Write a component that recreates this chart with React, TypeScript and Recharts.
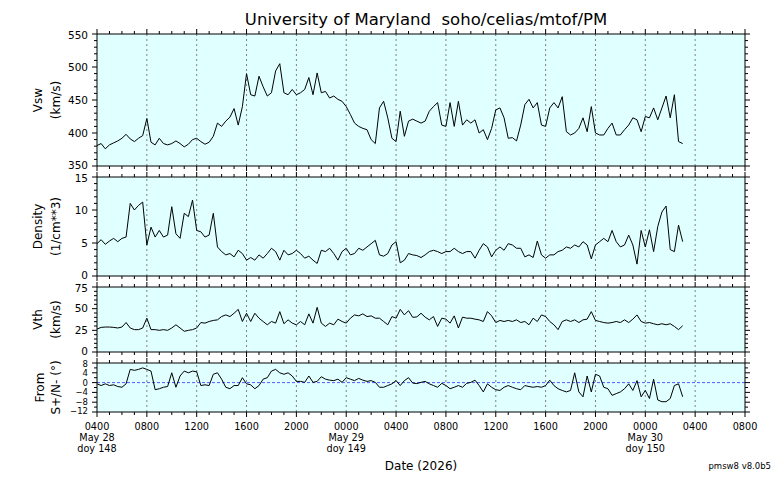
import React from 'react';
import { LineChart, Line, XAxis, YAxis, CartesianGrid, ReferenceLine } from 'recharts';

// one sample every 20 minutes, starting 0400 May 28 (hours since start)
const STEP_HOURS = 1 / 3;

const VSW = [
  381, 384, 376, 382, 385, 388, 392, 398, 391, 387, 392, 396,
  422, 386, 382, 392, 384, 382, 384, 388, 384, 379, 383, 390,
  392, 387, 383, 386, 395, 415, 410, 418, 424, 437, 412, 440,
  490, 458, 456, 486, 470, 456, 461, 494, 505, 461, 458, 466,
  458, 461, 466, 484, 458, 491, 461, 463, 453, 456, 451, 448,
  440, 428, 415, 410, 407, 405, 390, 384, 438, 448, 423, 392,
  387, 433, 395, 418, 421, 418, 415, 418, 433, 440, 446, 412,
  410, 446, 410, 448, 412, 420, 415, 420, 400, 405, 390, 407,
  435, 438, 423, 392, 393, 388, 412, 443, 451, 438, 446, 412,
  410, 438, 446, 438, 455, 402, 397, 400, 407, 423, 402, 440,
  400, 397, 397, 407, 415, 397, 397, 405, 412, 423, 420, 402,
  425, 423, 438, 420, 438, 456, 423, 458, 387, 384,
];

const DENSITY = [
  4.9, 5.5, 4.8, 5.3, 5.7, 5.2, 5.7, 5.9, 11.0, 10.0, 10.7, 11.2,
  4.7, 7.4, 5.9, 6.9, 5.9, 6.2, 10.5, 6.4, 5.7, 9.5, 9.0, 11.5,
  6.9, 6.7, 5.9, 6.2, 9.5, 4.4, 3.7, 3.2, 3.4, 2.9, 3.9, 3.4,
  2.4, 2.8, 2.4, 3.2, 2.7, 3.4, 4.2, 3.7, 2.4, 3.9, 3.2, 3.4,
  3.9, 3.4, 2.7, 3.0, 2.4, 1.9, 3.9, 3.7, 4.2, 3.4, 2.4, 3.7,
  4.2, 3.2, 3.4, 4.2, 3.9, 4.4, 4.9, 5.4, 3.2, 3.0, 3.4, 4.7,
  5.2, 2.0, 2.4, 3.4, 3.2, 3.1, 2.8, 3.2, 3.7, 3.9, 3.7, 3.4,
  3.7, 3.7, 4.2, 3.7, 3.4, 3.7, 3.7, 2.7, 3.9, 4.9, 4.4, 2.9,
  3.9, 4.4, 3.9, 4.9, 4.7, 4.2, 4.2, 2.9, 3.2, 2.8, 5.3, 3.2,
  2.7, 3.2, 3.2, 3.7, 3.9, 4.4, 4.2, 4.7, 4.4, 5.2, 4.7, 2.6,
  4.7, 5.2, 5.7, 5.2, 6.9, 5.2, 4.4, 4.7, 6.2, 4.7, 1.8, 6.9,
  4.4, 7.0, 3.7, 7.5, 9.7, 10.6, 4.0, 3.7, 7.7, 5.2,
];

const VTH = [
  26.5, 28.4, 28.8, 28.8, 28.4, 27.7, 28.8, 34.0, 27.7, 25.8, 25.8, 27.7,
  39.0, 25.8, 25.8, 25.0, 25.8, 25.0, 27.7, 31.4, 27.7, 23.9, 25.0, 25.8,
  27.7, 34.0, 33.3, 35.2, 36.4, 37.1, 40.9, 42.8, 40.9, 44.7, 49.2, 35.2,
  44.7, 35.2, 44.7, 39.0, 35.2, 31.4, 35.2, 33.3, 46.6, 32.6, 37.1, 33.3,
  31.4, 35.2, 31.4, 44.0, 33.3, 51.5, 33.3, 29.5, 33.3, 31.4, 37.9, 35.2,
  33.3, 39.0, 42.8, 41.7, 44.0, 40.9, 41.7, 39.0, 39.0, 35.2, 31.4, 40.9,
  39.0, 49.2, 42.8, 47.7, 40.0, 40.5, 44.7, 40.2, 37.1, 40.9, 29.5, 39.0,
  37.9, 33.3, 41.7, 27.7, 40.2, 39.0, 39.0, 37.9, 37.1, 35.2, 46.6, 41.7,
  34.0, 36.4, 35.2, 36.4, 35.2, 37.1, 34.0, 35.2, 31.4, 39.0, 35.2, 42.8,
  40.9, 35.2, 31.4, 25.8, 35.2, 37.1, 35.2, 37.1, 34.0, 37.1, 37.9, 46.6,
  36.4, 35.2, 34.0, 33.3, 34.0, 35.2, 34.0, 37.1, 34.0, 37.9, 42.8, 35.2,
  33.3, 34.0, 32.6, 31.4, 32.6, 31.4, 32.6, 29.5, 25.8, 30.3,
];

const FROM = [
  -0.5, -1.2, -0.5, -1.2, -0.9, -1.6, -1.9, -0.5, 5.4, 5.0, 5.4, 6.0,
  5.4, 4.7, -2.9, -2.5, -1.9, -1.6, 4.0, -1.9, 2.7, 4.7, 4.0, 4.7,
  4.4, -1.2, -0.9, -1.2, 3.4, 4.0, 1.4, -1.9, -2.5, -1.2, -1.2, 2.0,
  -0.5, -0.9, -2.5, -1.2, 1.4, 2.0, 4.7, 5.4, 4.0, 3.4, 4.0, 2.7,
  0.5, 0.5, 0.1, 2.7, 0.1, 0.5, 2.4, 1.4, 1.0, 0.8, 1.4, 0.1,
  2.0, 1.4, 0.8, 1.7, 1.0, 0.5, 0.8, 0.1, -1.9, -1.9, -1.2, -0.5,
  0.8, -1.2, 0.8, 2.0, -0.2, -0.4, 0.1, 0.5, -0.5, -1.2, -1.9, -0.3,
  -1.2, -2.5, -1.9, -1.2, -1.9, -0.3, 0.1, 1.0, -1.2, -3.8, -0.5, -1.9,
  -2.9, -3.2, -1.9, -1.2, -1.9, -2.5, -2.9, -1.2, -1.6, -1.9, -1.6, -1.9,
  -1.2, 1.0, -1.2, -2.5, -3.2, -3.8, -3.2, 4.0, -3.8, -5.8, 2.7, -3.8,
  3.4, 2.7, -1.9, -2.5, -5.2, -4.5, -3.8, -2.5, -0.5, -3.2, 0.8, -5.8,
  -3.2, -6.5, 1.4, -7.1, -7.8, -7.8, -6.5, -1.2, -0.5, -5.8,
];

// x axis: hours since 0400 May 28, major tick every 4 h
const X_LABELS = ['0400', '0800', '1200', '1600', '2000', '0000', '0400', '0800', '1200', '1600', '2000', '0000', '0400', '0800'];
const DAY_LABELS = ['May 28', '', '', '', '', 'May 29', '', '', '', '', '', 'May 30', '', ''];
const DOY_LABELS = ['doy 148', '', '', '', '', 'doy 149', '', '', '', '', '', 'doy 150', '', ''];

const X_END = 52;
const HOURS = Array.from({ length: X_END + 1 }, (_, i) => i);
const GRID_HOURS = HOURS.filter((h) => h % 4 === 0 && h > 0 && h < X_END);

const FONT = '"DejaVu Sans", Verdana, sans-serif';
const WIDTH = 776;
const PLOT_LEFT = 97;
const PLOT_RIGHT = 745;

const toRows = (vals: number[]) => vals.map((v, i) => ({ t: i * STEP_HOURS, v }));

const range = (lo: number, hi: number, step: number) =>
  Array.from({ length: Math.round((hi - lo) / step) + 1 }, (_, i) => lo + i * step);

const panels = [
  { id: 'vsw', rows: toRows(VSW), top: 34, height: 132, domain: [350, 550], minor: 10, major: 50, font: 10.5 },
  { id: 'den', rows: toRows(DENSITY), top: 177, height: 99, domain: [0, 15], minor: 1, major: 5, font: 10.5 },
  { id: 'vth', rows: toRows(VTH), top: 287, height: 65, domain: [0, 75], minor: 5, major: 25, font: 10.5 },
  { id: 'from', rows: toRows(FROM), top: 363, height: 49, domain: [-12, 8], minor: 2, major: 4, font: 8.5, zero: true, last: true },
];

const BottomTick = ({ x, y, payload, last }: any) => {
  const h = payload.value;
  const major = h % 4 === 0;
  const i = h / 4;
  return (
    <g>
      <line x1={x} x2={x} y1={y} y2={y + (major ? 5 : 3)} stroke="#000" />
      {last && major && (
        <text x={x} y={y + 17.5} textAnchor="middle" fontSize={9.7} fontFamily={FONT} fill="#000">
          <tspan x={x}>{X_LABELS[i]}</tspan>
          {DAY_LABELS[i] && <tspan x={x} dy={11}>{DAY_LABELS[i]}</tspan>}
          {DOY_LABELS[i] && <tspan x={x} dy={11}>{DOY_LABELS[i]}</tspan>}
        </text>
      )}
    </g>
  );
};

const TopTick = ({ x, y, payload }: any) => {
  const major = payload.value % 4 === 0;
  return <line x1={x} x2={x} y1={y} y2={y - (major ? 5 : 3)} stroke="#000" />;
};

const LeftTick = ({ x, y, payload, lo, hi, major, font }: any) => {
  const v = payload.value;
  const isMajor = Math.abs((v - lo) % major) < 1e-9;
  // labels at the panel edges are nudged apart so neighbouring panels don't collide
  const nudge = v === hi ? 1.2 : v === lo ? -1.2 : 0;
  return (
    <g>
      <line x1={x} x2={x - (isMajor ? 5 : 3)} y1={y} y2={y} stroke="#000" />
      {isMajor && (
        <text x={x - 9} y={y + nudge} dy="0.36em" textAnchor="end" fontSize={font} fontFamily={FONT} fill="#000">
          {String(v).replace('-', '\u2212')}
        </text>
      )}
    </g>
  );
};

const RightTick = ({ x, y, payload, lo, major }: any) => {
  const isMajor = Math.abs((payload.value - lo) % major) < 1e-9;
  return <line x1={x} x2={x + (isMajor ? 5 : 3)} y1={y} y2={y} stroke="#000" />;
};

function Panel({ p }: any) {
  const topAx = 8;
  const botAx = p.last ? 62 : 8;
  const yTicks = range(p.domain[0], p.domain[1], p.minor);
  const [lo, hi] = p.domain;
  return (
    <div style={{ position: 'absolute', left: 0, top: p.top - topAx }}>
      <LineChart
        width={WIDTH}
        height={topAx + p.height + botAx}
        data={p.rows}
        margin={{ top: 0, right: 0, bottom: 0, left: 0 }}
      >
        <CartesianGrid fill="#e0ffff" fillOpacity={1} horizontal={false} vertical={false} />
        {GRID_HOURS.map((h) => (
          <ReferenceLine key={h} x={h} stroke="#808080" strokeDasharray="2 3" />
        ))}
        {p.zero && <ReferenceLine y={0} stroke="#5a5aff" strokeDasharray="3 2" />}
        <XAxis
          dataKey="t"
          type="number"
          domain={[0, X_END]}
          allowDataOverflow
          ticks={HOURS}
          interval={0}
          tickSize={0}
          tickMargin={0}
          tickLine={false}
          height={botAx}
          stroke="#000"
          tick={(props: any) => <BottomTick {...props} last={p.last} />}
        />
        <XAxis
          xAxisId="top"
          orientation="top"
          dataKey="t"
          type="number"
          domain={[0, X_END]}
          allowDataOverflow
          ticks={HOURS}
          interval={0}
          tickSize={0}
          tickMargin={0}
          tickLine={false}
          height={topAx}
          stroke="#000"
          tick={(props: any) => <TopTick {...props} />}
        />
        <YAxis
          type="number"
          domain={p.domain}
          allowDataOverflow
          ticks={yTicks}
          interval={0}
          tickSize={0}
          tickMargin={0}
          tickLine={false}
          width={PLOT_LEFT}
          stroke="#000"
          tick={(props: any) => <LeftTick {...props} lo={lo} hi={hi} major={p.major} font={p.font} />}
        />
        <YAxis
          yAxisId="right"
          orientation="right"
          type="number"
          domain={p.domain}
          allowDataOverflow
          ticks={yTicks}
          interval={0}
          tickSize={0}
          tickMargin={0}
          tickLine={false}
          width={WIDTH - PLOT_RIGHT}
          stroke="#000"
          tick={(props: any) => <RightTick {...props} lo={lo} major={p.major} />}
        />
        <Line
          type="linear"
          dataKey="v"
          stroke="#000"
          strokeWidth={1}
          dot={false}
          activeDot={false}
          isAnimationActive={false}
        />
      </LineChart>
    </div>
  );
}

const yLabel = (x: number, y: number, text: string) => (
  <text
    x={x}
    y={y}
    transform={`rotate(-90 ${x} ${y})`}
    textAnchor="middle"
    dominantBaseline="central"
    fontSize={12}
    fontFamily={FONT}
    fill="#000"
  >
    {text}
  </text>
);

export default function App() {
  return (
    <div style={{ position: 'absolute', left: 0, top: 0, width: WIDTH, height: 480, background: '#fff' }}>
      {panels.map((p) => (
        <Panel key={p.id} p={p} />
      ))}
      <svg width={WIDTH} height={480} style={{ position: 'absolute', left: 0, top: 0, pointerEvents: 'none' }}>
        <text x={426} y={25} textAnchor="middle" fontSize={16.5} fontFamily={FONT} fill="#000">
          University of Maryland{'\u00a0\u00a0'}soho/celias/mtof/PM
        </text>
        {yLabel(37.5, 100, 'Vsw')}
        {yLabel(55.5, 100, '(km/s)')}
        {yLabel(37.5, 226.5, 'Density')}
        {yLabel(55.5, 226.5, '(1/cm**3)')}
        {yLabel(37.5, 319.5, 'Vth')}
        {yLabel(55.5, 319.5, '(km/s)')}
        {yLabel(40, 387.5, 'From')}
        {yLabel(55.5, 387.5, 'S+/N- (\u00b0)')}
        <text x={421} y={470} textAnchor="middle" fontSize={12} fontFamily={FONT} fill="#000">
          Date (2026)
        </text>
        <text x={771} y={469} textAnchor="end" fontSize={8.5} fontFamily={FONT} fill="#000">
          pmsw8 v8.0b5
        </text>
      </svg>
    </div>
  );
}
